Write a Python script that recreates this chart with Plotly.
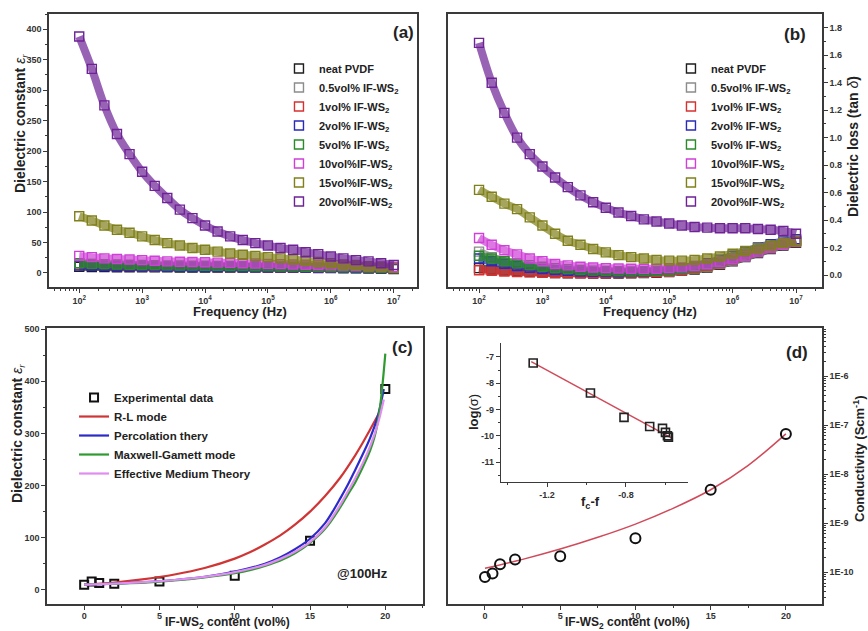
import plotly.graph_objects as go

FONT = "Liberation Sans, Arial, sans-serif"

# ---------------- Panel (a)/(b): frequency grid (exponent of 10) ----------------
FREQ_EXP = [2.0, 2.2, 2.4, 2.6, 2.8, 3.0, 3.2, 3.4, 3.6, 3.8, 4.0, 4.2, 4.4,
            4.6, 4.8, 5.0, 5.2, 5.4, 5.6, 5.8, 6.0, 6.2, 6.4, 6.6, 6.8, 7.0]

SERIES_NAMES = ["neat PVDF", "0.5vol% IF-WS<sub>2</sub>", "1vol% IF-WS<sub>2</sub>",
                "2vol% IF-WS<sub>2</sub>", "5vol% IF-WS<sub>2</sub>", "10vol%IF-WS<sub>2</sub>",
                "15vol%IF-WS<sub>2</sub>", "20vol%IF-WS<sub>2</sub>"]
SERIES_COLORS = ["#1e1e1e", "#8c8c8c", "#d83030", "#2a2ab8", "#2a8a2a", "#d040d8",
                 "#80801a", "#6e2296"]

# Dielectric constant (a)
EPS_NEAT = [10, 9.8, 9.6, 9.5, 9.4, 9.3, 9.2, 9.1, 9.0, 8.95, 8.9, 8.85, 8.8, 8.75, 8.7,
            8.6, 8.5, 8.4, 8.3, 8.2, 8.0, 7.8, 7.5, 7.2, 6.9, 6.6]
EPS_05 = [16, 14.8, 13.8, 13, 12.4, 11.9, 11.5, 11.2, 10.9, 10.7, 10.5, 10.3, 10.1, 10,
          9.9, 9.8, 9.7, 9.6, 9.4, 9.2, 9.0, 8.8, 8.5, 8.2, 7.9, 7.6]
EPS_1 = [13, 12.4, 11.9, 11.5, 11.2, 10.9, 10.7, 10.5, 10.3, 10.1, 10, 9.9, 9.8, 9.7,
         9.6, 9.5, 9.4, 9.3, 9.2, 9.0, 8.8, 8.6, 8.3, 8.0, 7.7, 7.4]
EPS_2 = [12, 11.6, 11.3, 11, 10.8, 10.6, 10.4, 10.2, 10, 9.9, 9.8, 9.7, 9.6, 9.5, 9.4,
         9.3, 9.2, 9.1, 9.0, 8.9, 8.7, 8.5, 8.2, 7.9, 7.6, 7.3]
EPS_5 = [16, 15, 14.5, 14, 13.5, 13, 12.8, 12.5, 12.3, 12, 11.8, 11.6, 11.4, 11.2, 11,
         10.8, 10.6, 10.4, 10.2, 10, 9.8, 9.5, 9.2, 8.9, 8.6, 8.3]
EPS_10 = [28, 26, 24, 23, 22, 21, 20, 19, 18.5, 18, 17.5, 17, 16.5, 16, 15.5, 15, 14.5,
          14, 13.5, 13, 12.5, 12, 11.5, 11, 10.5, 10]
EPS_15 = [93, 86, 78, 71, 66, 60, 54, 49, 45, 41, 38, 35, 32, 30, 28, 26, 24, 22, 20, 18,
          16, 14, 13, 11, 10, 8]
EPS_20 = [388, 335, 275, 228, 195, 166, 143, 123, 104, 90, 78, 68, 60, 54, 49, 45, 41, 38,
          34, 31, 27, 24, 21, 19, 16, 13]

# Dielectric loss tan(delta) (b)
TAN_NEAT = [0.05, 0.04, 0.033, 0.027, 0.022, 0.018, 0.015, 0.013, 0.012, 0.011, 0.011,
            0.011, 0.012, 0.014, 0.017, 0.022, 0.03, 0.04, 0.055, 0.075, 0.10, 0.13, 0.16,
            0.19, 0.215, 0.235]
TAN_05 = [0.17, 0.13, 0.10, 0.075, 0.057, 0.044, 0.035, 0.028, 0.023, 0.02, 0.018, 0.017,
          0.017, 0.018, 0.021, 0.026, 0.034, 0.045, 0.06, 0.08, 0.105, 0.135, 0.165, 0.195,
          0.22, 0.24]
TAN_1 = [0.035, 0.03, 0.026, 0.022, 0.019, 0.017, 0.015, 0.014, 0.013, 0.013, 0.013, 0.014,
         0.015, 0.017, 0.021, 0.027, 0.035, 0.047, 0.063, 0.085, 0.11, 0.14, 0.17, 0.2,
         0.225, 0.245]
TAN_2 = [0.12, 0.1, 0.082, 0.066, 0.053, 0.043, 0.036, 0.03, 0.026, 0.023, 0.021, 0.02,
         0.021, 0.024, 0.03, 0.038, 0.05, 0.066, 0.087, 0.112, 0.14, 0.17, 0.2, 0.225,
         0.245, 0.26]
TAN_5 = [0.14, 0.12, 0.1, 0.085, 0.072, 0.06, 0.05, 0.043, 0.037, 0.032, 0.029, 0.027,
         0.026, 0.027, 0.03, 0.035, 0.043, 0.055, 0.07, 0.09, 0.115, 0.145, 0.175, 0.205,
         0.23, 0.25]
TAN_10 = [0.27, 0.22, 0.18, 0.15, 0.12, 0.10, 0.08, 0.07, 0.06, 0.055, 0.05, 0.048, 0.046,
          0.045, 0.046, 0.05, 0.056, 0.065, 0.078, 0.095, 0.115, 0.14, 0.17, 0.20, 0.225,
          0.25]
TAN_15 = [0.62, 0.57, 0.52, 0.48, 0.42, 0.36, 0.30, 0.25, 0.22, 0.19, 0.165, 0.145, 0.13,
          0.12, 0.11, 0.105, 0.105, 0.11, 0.12, 0.135, 0.155, 0.175, 0.195, 0.215, 0.235,
          0.25]
TAN_20 = [1.69, 1.40, 1.18, 1.0, 0.88, 0.79, 0.71, 0.64, 0.58, 0.53, 0.49, 0.455, 0.43,
          0.405, 0.39, 0.375, 0.36, 0.35, 0.345, 0.34, 0.34, 0.34, 0.335, 0.33, 0.32, 0.30]

# ---------------- Panel (c) ----------------
CONTENT = [0, 0.5, 1, 2, 5, 10, 15, 20]
EPS_100HZ = [10, 16, 13, 12, 16, 27, 94, 385]
RL_X = [0, 2, 4, 6, 8, 10, 11, 12, 13, 14, 15, 16, 17, 18, 18.5, 19, 19.5, 19.6]
RL_Y = [10, 14, 20.5, 29.5, 42, 60, 72, 87, 104, 125, 150, 180, 215, 258, 282, 308, 334, 339]
PERC_X = [0, 2, 4, 6, 8, 10, 12, 13, 14, 15, 16, 16.5, 17, 17.5, 18, 18.5, 19, 19.5, 19.9]
PERC_Y = [10, 12, 15, 19, 25, 35, 50, 62, 78, 98, 128, 150, 175, 201, 230, 260, 292, 333, 385]
MG_X = [0, 2, 4, 6, 8, 10, 11, 12, 13, 14, 15, 16, 17, 17.5, 18, 18.5, 19, 19.3, 19.6,
        19.8, 20]
MG_Y = [10, 12, 14, 18, 24, 32, 38, 46, 56, 70, 90, 117, 158, 182, 206, 235, 268, 295, 340,
        390, 453]
EMT_X = [0, 2, 4, 6, 8, 10, 12, 13, 14, 15, 16, 17, 17.5, 18, 18.5, 19, 19.5, 19.9]
EMT_Y = [10, 12, 15, 19, 25, 34, 48, 59, 73, 92, 120, 163, 188, 214, 243, 276, 318, 365]

# ---------------- Panel (d) ----------------
SIGMA = [8.0e-11, 9.4e-11, 1.45e-10, 1.8e-10, 2.1e-10, 4.9e-10, 4.8e-9, 6.6e-8]
SIGMA_FIT_X = [0, 2.5, 5, 7.5, 10, 12.5, 15, 17.5, 20]
SIGMA_FIT_Y = [1.20e-10, 1.82e-10, 2.95e-10, 5.13e-10, 9.55e-10, 2.00e-9, 4.79e-9,
               1.51e-8, 6.61e-8]
INSET_X = [-1.27, -0.98, -0.81, -0.68, -0.615, -0.60, -0.59, -0.585]
INSET_Y = [-7.23, -8.37, -9.30, -9.65, -9.72, -9.87, -10.0, -10.05]
INSET_FIT_X = [-1.28, -0.57]
INSET_FIT_Y = [-7.18, -10.08]

A_TICKS = [0, 50, 100, 150, 200, 250, 300, 350, 400]
B_TICKS = [0.0, 0.2, 0.4, 0.6, 0.8, 1.0, 1.2, 1.4, 1.6, 1.8]
FREQ_TICK_EXP = [2, 3, 4, 5, 6, 7]
D_TICK_EXP = [-10, -9, -8, -7, -6]

freq = [10 ** e for e in FREQ_EXP]
EPS_ALL = [EPS_NEAT, EPS_05, EPS_1, EPS_2, EPS_5, EPS_10, EPS_15, EPS_20]
TAN_ALL = [TAN_NEAT, TAN_05, TAN_1, TAN_2, TAN_5, TAN_10, TAN_15, TAN_20]

fig = go.Figure()

for panel, data, xa, ya, lg in [("a", EPS_ALL, "x", "y", "legend"),
                                ("b", TAN_ALL, "x2", "y2", "legend2")]:
    for name, col, vals in zip(SERIES_NAMES, SERIES_COLORS, data):
        fig.add_trace(go.Scatter(x=freq, y=vals, mode="lines", xaxis=xa, yaxis=ya,
                                 line=dict(color=col, width=8, shape="spline"),
                                 opacity=0.7, showlegend=False, hoverinfo="skip"))
        fig.add_trace(go.Scatter(x=freq, y=vals, mode="markers", name=name, xaxis=xa,
                                 yaxis=ya, legend=lg,
                                 marker=dict(symbol="square-open", size=9, color=col,
                                             line=dict(width=1.4, color=col))))

# Panel (c)
fig.add_trace(go.Scatter(x=CONTENT, y=EPS_100HZ, mode="markers", name="Experimental data",
                         xaxis="x3", yaxis="y3", legend="legend3", legendrank=1,
                         marker=dict(symbol="square-open", size=8, color="#111",
                                     line=dict(width=2, color="#111"))))
for name, xs, ys, col, rank in [("R-L mode", RL_X, RL_Y, "#d03535", 2),
                                ("Percolation thery", PERC_X, PERC_Y, "#2b2bc8", 3),
                                ("Maxwell-Gamett mode", MG_X, MG_Y, "#2f9a2f", 4),
                                ("Effective Medium Theory", EMT_X, EMT_Y, "#e08cf0", 5)]:
    fig.add_trace(go.Scatter(x=xs, y=ys, mode="lines", name=name, xaxis="x3", yaxis="y3",
                             legend="legend3", legendrank=rank,
                             line=dict(color=col, width=2.2, shape="spline")))

# Panel (d)
fig.add_trace(go.Scatter(x=SIGMA_FIT_X, y=SIGMA_FIT_Y, mode="lines", xaxis="x4", yaxis="y4",
                         line=dict(color="#d04a5a", width=1.5, shape="spline"),
                         showlegend=False))
fig.add_trace(go.Scatter(x=CONTENT, y=SIGMA, mode="markers", xaxis="x4", yaxis="y4",
                         marker=dict(symbol="circle-open", size=10, color="#111",
                                     line=dict(width=2, color="#111")),
                         showlegend=False))
fig.add_trace(go.Scatter(x=INSET_FIT_X, y=INSET_FIT_Y, mode="lines", xaxis="x5", yaxis="y5",
                         line=dict(color="#d04a5a", width=1.5), showlegend=False))
fig.add_trace(go.Scatter(x=INSET_X, y=INSET_Y, mode="markers", xaxis="x5", yaxis="y5",
                         marker=dict(symbol="square-open", size=8, color="#222",
                                     line=dict(width=1.6, color="#222")),
                         showlegend=False))

LINE_C = "#3a3a3a"
TICKFONT = dict(family=FONT, size=9, color="#333", weight="bold")


def ax(**kw):
    base = dict(showline=True, linecolor=LINE_C, linewidth=1.5, mirror=True,
                ticks="outside", ticklen=4, tickwidth=1.2, tickcolor=LINE_C,
                showgrid=False, zeroline=False, tickfont=TICKFONT, automargin=False)
    base.update(kw)
    return base


def minor(vals):
    return dict(tickmode="array", tickvals=vals, ticks="outside", ticklen=2,
                tickwidth=1, tickcolor=LINE_C, showgrid=False)


freq_minor = [m * 10 ** d for d in range(1, 8) for m in range(2, 10)]
freq_text = ["10<sup>%d</sup>" % e for e in FREQ_TICK_EXP]
freq_vals = [10 ** e for e in FREQ_TICK_EXP]
d_minor = [m * 10.0 ** d for d in range(-11, -5) for m in range(2, 10)]

fig.update_layout(
    width=868, height=631, margin=dict(l=0, r=0, t=0, b=0),
    paper_bgcolor="white", plot_bgcolor="white",
    font=dict(family=FONT, color="#222"),
    xaxis=ax(domain=[0.0565, 0.4804], anchor="y", type="log", range=[1.52, 7.37],
             tickmode="array", tickvals=freq_vals, ticktext=freq_text,
             minor=minor(freq_minor)),
    yaxis=ax(domain=[0.5452, 0.9778], anchor="x", range=[-23, 425],
             tickmode="array", tickvals=A_TICKS,
             minor=minor([25, 75, 125, 175, 225, 275, 325, 375, 425])),
    xaxis2=ax(domain=[0.5161, 0.9470], anchor="y2", type="log", range=[1.51, 7.41],
              tickmode="array", tickvals=freq_vals, ticktext=freq_text,
              minor=minor(freq_minor)),
    yaxis2=ax(domain=[0.5452, 0.9778], anchor="x2", side="right", range=[-0.087, 1.90],
              tickmode="array", tickvals=B_TICKS, ticktext=["%.1f" % v for v in B_TICKS],
              minor=minor([0.1, 0.3, 0.5, 0.7, 0.9, 1.1, 1.3, 1.5, 1.7])),
    xaxis3=ax(domain=[0.0541, 0.4873], anchor="y3", range=[-2.47, 22.5],
              tickmode="array", tickvals=[0, 5, 10, 15, 20], ticklabelstandoff=-2,
              minor=minor([-2.5, 2.5, 7.5, 12.5, 17.5, 22.5])),
    yaxis3=ax(domain=[0.0428, 0.4802], anchor="x3", range=[-27, 502],
              tickmode="array", tickvals=[0, 100, 200, 300, 400, 500],
              minor=minor([50, 150, 250, 350, 450])),
    xaxis4=ax(domain=[0.5161, 0.9470], anchor="y4", range=[-2.46, 22.4],
              tickmode="array", tickvals=[0, 5, 10, 15, 20], ticklabelstandoff=-2,
              minor=minor([-2.5, 2.5, 7.5, 12.5, 17.5, 22.5])),
    yaxis4=ax(domain=[0.0428, 0.4802], anchor="x4", side="right", type="log",
              range=[-10.65, -5.02], tickmode="array",
              tickvals=[10.0 ** e for e in D_TICK_EXP],
              ticktext=["1E%d" % e for e in D_TICK_EXP], minor=minor(d_minor)),
    xaxis5=ax(domain=[0.5772, 0.7926], anchor="y5", range=[-1.433, -0.486], mirror=False,
              tickmode="array", tickvals=[-1.2, -0.8], ticktext=["-1.2", "-0.8"],
              minor=minor([-1.4, -1.0, -0.6]), linewidth=1.2),
    yaxis5=ax(domain=[0.2361, 0.4564], anchor="x5", range=[-11.76, -6.47], mirror=False,
              tickmode="array", tickvals=[-7, -8, -9, -10, -11],
              ticktext=["-7", "-8", "-9", "-10", "-11"],
              minor=minor([-7.5, -8.5, -9.5, -10.5, -11.5]), linewidth=1.2),
    legend=dict(x=0.3214, y=0.9144, xanchor="left", yanchor="top", bgcolor="rgba(0,0,0,0)",
                font=dict(family=FONT, size=11, color="#222", weight="bold")),
    legend2=dict(x=0.773, y=0.9144, xanchor="left", yanchor="top", bgcolor="rgba(0,0,0,0)",
                 font=dict(family=FONT, size=11, color="#222", weight="bold")),
    legend3=dict(x=0.0853, y=0.3930, xanchor="left", yanchor="top", bgcolor="rgba(0,0,0,0)",
                 font=dict(family=FONT, size=11.5, color="#222", weight="bold")),
)


def ann(x, y, text, size=13, angle=0, xanchor="center"):
    fig.add_annotation(x=x / 868, y=1 - y / 631, xref="paper", yref="paper", text=text,
                       showarrow=False, textangle=angle, xanchor=xanchor, yanchor="middle",
                       font=dict(family=FONT, size=size, color="#222"))


ann(403, 33, "<b>(a)</b>", 17)
ann(795, 35, "<b>(b)</b>", 17)
ann(402, 347, "<b>(c)</b>", 17)
ann(797, 352, "<b>(d)</b>", 17)
ann(21, 124, "<b>Dielectric constant</b> <i>ε<sub>r</sub></i>", 14, -90)
ann(240, 311, "<b>Frequency (Hz)</b>", 13)
ann(650, 311, "<b>Frequency (Hz)</b>", 13)
ann(853, 147, "<b>Dielectric loss (tan</b> <i>δ</i><b>)</b>", 14, -90)
ann(18, 434, "<b>Dielectric constant</b> <i>ε<sub>r</sub></i>", 14, -90)
ann(227, 623, "<b>IF-WS<sub>2</sub> content (vol%)</b>", 12)
ann(627, 623, "<b>IF-WS<sub>2</sub> content (vol%)</b>", 12)
ann(859, 459, "<b>Conductivity (Scm<sup>-1</sup>)</b>", 13, -90)
ann(362, 573, "<b>@100Hz</b>", 13)
ann(473, 412, "<b>log</b>(σ)", 13, -90)
ann(590, 502, "<b>f<sub>c</sub>-f</b>", 13)

fig.write_html("out.html", config={"displayModeBar": False})

# remove the browser's default page margin so the figure fills the 868x631 window exactly
with open("out.html", encoding="utf-8") as fh:
    html = fh.read()
html = html.replace("<body>", '<body style="margin:0;padding:0;overflow:hidden;">', 1)
with open("out.html", "w", encoding="utf-8") as fh:
    fh.write(html)
